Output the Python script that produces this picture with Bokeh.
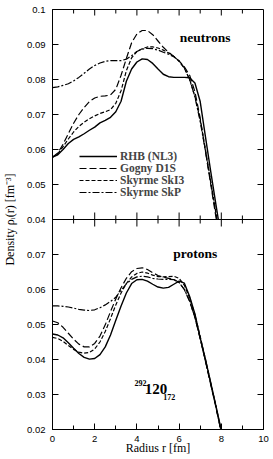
import math
from bokeh.plotting import figure
from bokeh.models import (Range1d, LinearAxis, FixedTicker, Span, Label,
                          Legend, LegendItem)
from bokeh.embed import file_html
from bokeh.resources import INLINE

# ---------------- data ----------------
r = [0.0, 0.25, 0.5, 0.75, 1.0, 1.25, 1.5, 1.75, 2.0, 2.25, 2.5, 2.75,
     3.0, 3.25, 3.5, 3.75, 4.0, 4.25, 4.5, 4.75, 5.0, 5.25, 5.5, 5.75,
     6.0, 6.25, 6.5, 6.75, 7.0, 7.25, 7.5, 7.75]

# neutrons
n_rhb = [0.0578, 0.0585, 0.0600, 0.0617, 0.0629, 0.0636, 0.0645, 0.0655, 0.0664, 0.0676, 0.0683, 0.0692,
         0.0708, 0.0738, 0.0795, 0.0830, 0.0850, 0.0859, 0.0857, 0.0846, 0.0830, 0.0815, 0.0808, 0.0806,
         0.0806, 0.0806, 0.0805, 0.0790, 0.0737, 0.0636, 0.0537, 0.0441]
n_rhb_end = (7.86, 0.040)
n_gog = [0.0578, 0.0590, 0.0615, 0.0645, 0.0675, 0.0700, 0.0720, 0.0737, 0.0747, 0.0752, 0.0753, 0.0756,
         0.0772, 0.0812, 0.0860, 0.0905, 0.0930, 0.0940, 0.0940, 0.0928, 0.0910, 0.0892, 0.0878, 0.0866,
         0.0853, 0.0836, 0.0812, 0.0765, 0.0690, 0.0595, 0.0500, 0.0405]
n_gog_end = (7.77, 0.040)
n_ski = [0.0578, 0.0588, 0.0608, 0.0630, 0.0650, 0.0666, 0.0678, 0.0688, 0.0696, 0.0703, 0.0708, 0.0714,
         0.0732, 0.0768, 0.0825, 0.0862, 0.0880, 0.0888, 0.0893, 0.0893, 0.0890, 0.0884, 0.0876, 0.0866,
         0.0852, 0.0832, 0.0800, 0.0752, 0.0685, 0.0600, 0.0508, 0.0418]
n_ski_end = (7.80, 0.040)
n_skp = [0.0777, 0.0779, 0.0783, 0.0788, 0.0796, 0.0806, 0.0818, 0.0830, 0.0840, 0.0847, 0.0852, 0.0854,
         0.0854, 0.0854, 0.0858, 0.0868, 0.0880, 0.0887, 0.0889, 0.0888, 0.0884, 0.0878, 0.0872, 0.0865,
         0.0853, 0.0833, 0.0800, 0.0750, 0.0680, 0.0595, 0.0505, 0.0415]
n_skp_end = (7.79, 0.040)

# protons
p_rhb = [0.0473, 0.0470, 0.0462, 0.0448, 0.0432, 0.0417, 0.0406, 0.0401, 0.0403, 0.0414, 0.0436, 0.0470,
         0.0512, 0.0553, 0.0590, 0.0617, 0.0628, 0.0629, 0.0624, 0.0615, 0.0607, 0.0604, 0.0606, 0.0615,
         0.0624, 0.0618, 0.0580, 0.0530, 0.0462, 0.0400, 0.0333, 0.0266]
p_rhb_end = (7.99, 0.020)
p_gog = [0.0510, 0.0505, 0.0492, 0.0475, 0.0458, 0.0444, 0.0436, 0.0436, 0.0446, 0.0467, 0.0499, 0.0537,
         0.0573, 0.0605, 0.0632, 0.0651, 0.0660, 0.0662, 0.0657, 0.0648, 0.0640, 0.0635, 0.0632, 0.0629,
         0.0620, 0.0600, 0.0566, 0.0520, 0.0460, 0.0395, 0.0328, 0.0262]
p_gog_end = (7.97, 0.020)
p_ski = [0.0463, 0.0460, 0.0452, 0.0440, 0.0429, 0.0421, 0.0418, 0.0420, 0.0430, 0.0450, 0.0480, 0.0517,
         0.0556, 0.0590, 0.0617, 0.0636, 0.0646, 0.0650, 0.0647, 0.0641, 0.0637, 0.0636, 0.0637, 0.0638,
         0.0632, 0.0612, 0.0576, 0.0528, 0.0466, 0.0400, 0.0333, 0.0266]
p_ski_end = (7.98, 0.020)
p_skp = [0.0553, 0.0553, 0.0552, 0.0550, 0.0547, 0.0543, 0.0541, 0.0540, 0.0542, 0.0548, 0.0556, 0.0566,
         0.0578, 0.0598, 0.0616, 0.0629, 0.0636, 0.0638, 0.0636, 0.0632, 0.0630, 0.0629, 0.0629, 0.0628,
         0.0620, 0.0600, 0.0567, 0.0520, 0.0460, 0.0395, 0.0330, 0.0263]
p_skp_end = (7.97, 0.020)

series_names = ["RHB (NL3)", "Gogny D1S", "Skyrme SkI3", "Skyrme SkP"]

x_ticks = [0, 2, 4, 6, 8, 10]
x_minor = [1, 3, 5, 7, 9]
x_tick_labels = ["0", "2", "4", "6", "8", "10"]
top_ticks = [0.04, 0.05, 0.06, 0.07, 0.08, 0.09, 0.10]
top_tick_labels = ["0.04", "0.05", "0.06", "0.07", "0.08", "0.09", "0.1"]
bot_ticks = [0.02, 0.03, 0.04, 0.05, 0.06, 0.07]
bot_tick_labels = ["0.02", "0.03", "0.04", "0.05", "0.06", "0.07"]

# ---------------- figure ----------------
TOP_SHIFT = 0.04   # top-panel range is the bottom-panel range shifted by this
Y0, Y1 = 0.02, 0.14
p = figure(width=273, height=458, output_backend="svg", toolbar_location=None,
           x_range=Range1d(0, 10), y_range=Range1d(Y0, Y1),
           x_axis_location=None, y_axis_location=None,
           min_border_left=50, min_border_right=10, min_border_top=9, min_border_bottom=29)
p.extra_y_ranges = {"top": Range1d(Y0 - TOP_SHIFT, Y1 - TOP_SHIFT)}
p.xgrid.visible = False
p.ygrid.visible = False
p.outline_line_color = "black"
p.outline_line_width = 1
p.background_fill_color = "white"
p.border_fill_color = "white"

SANS = "Liberation Sans"
SERIF = "Liberation Serif"

def style_axis(ax):
    ax.axis_line_color = "black"
    ax.major_tick_line_color = "black"
    ax.minor_tick_line_color = "black"
    ax.major_tick_in = 6
    ax.major_tick_out = 0
    ax.minor_tick_in = 4
    ax.minor_tick_out = 0
    ax.major_label_text_font = SANS
    ax.major_label_text_font_size = "9.5px"
    ax.major_label_text_color = "black"
    ax.axis_label_text_font = SERIF
    ax.axis_label_text_font_size = "12px"
    ax.axis_label_text_font_style = "normal"
    ax.axis_label_text_color = "black"

xt = FixedTicker(ticks=x_ticks, minor_ticks=x_minor)
xb = LinearAxis(ticker=xt, axis_label="Radius r [fm]",
                major_label_overrides={t: l for t, l in zip(x_ticks, x_tick_labels)})
style_axis(xb)
xb.major_label_standoff = 6
xb.axis_label_standoff = -4
p.add_layout(xb, "below")

y_pos = list(bot_ticks) + [round(t + TOP_SHIFT, 4) for t in top_ticks]
y_lab = list(bot_tick_labels) + list(top_tick_labels)
overrides = {pos: lab for pos, lab in zip(y_pos, y_lab)}
yl = LinearAxis(ticker=FixedTicker(ticks=y_pos, minor_ticks=[]),
                major_label_overrides=overrides,
                axis_label="Density ρᵢ(r) [fm⁻³]")
style_axis(yl)
yl.major_label_standoff = 7
yl.axis_label_standoff = 7
p.add_layout(yl, "left")

# inward ticks on the top and right frame edges (markers centred on the edge, half clipped)
p.scatter(x=x_ticks[1:-1], y=[Y1] * (len(x_ticks) - 2), marker="dash",
          angle=math.pi / 2, size=12, line_color="black", line_width=1)
p.scatter(x=x_minor, y=[Y1] * len(x_minor), marker="dash",
          angle=math.pi / 2, size=8, line_color="black", line_width=1)
inner_y = [v for v in y_pos if Y0 < v < Y1]
p.scatter(x=[10] * len(inner_y), y=inner_y, marker="dash",
          size=12, line_color="black", line_width=1)

# panel boundary (0.08 of the lower panel == 0.04 of the upper panel)
boundary = round(top_ticks[0] + TOP_SHIFT, 4)
p.add_layout(Span(location=boundary, dimension="width", line_color="black", line_width=1))
p.scatter(x=x_ticks[1:-1], y=[boundary] * (len(x_ticks) - 2), marker="dash",
          angle=math.pi / 2, size=14, line_color="black", line_width=1)
p.scatter(x=x_minor, y=[boundary] * len(x_minor), marker="dash",
          angle=math.pi / 2, size=8, line_color="black", line_width=1)

styles = [dict(line_dash="solid", line_width=1.4),
          dict(line_dash="7 3", line_width=1.2),
          dict(line_dash="4 2", line_width=1.2),
          dict(line_dash="7 2 2 2", line_width=1.2)]

neut = [(n_rhb, n_rhb_end), (n_gog, n_gog_end), (n_ski, n_ski_end), (n_skp, n_skp_end)]
prot = [(p_rhb, p_rhb_end), (p_gog, p_gog_end), (p_ski, p_ski_end), (p_skp, p_skp_end)]

legend_items = []
for (vals, end), st, name in zip(neut, styles, series_names):
    rr = p.line(r + [end[0]], vals + [end[1]], y_range_name="top", line_color="black",
                line_join="round", **st)
    legend_items.append(LegendItem(label=name, renderers=[rr]))
for (vals, end), st in zip(prot, styles):
    p.line(r + [end[0]], vals + [end[1]], line_color="black", line_join="round", **st)

legend = Legend(items=legend_items, location=(27, 231), orientation="vertical",
                glyph_width=38, glyph_height=12, label_height=12, label_standoff=3,
                spacing=0, padding=0, margin=0, border_line_color=None,
                background_fill_alpha=0, label_text_font=SERIF,
                label_text_font_style="bold", label_text_font_size="11.5px")
p.add_layout(legend)

def lab(x, y, text, size, rng=None, baseline="alphabetic"):
    kw = dict(x=x, y=y, text=text, text_font=SERIF, text_font_style="bold",
              text_font_size=size, text_color="black", text_baseline=baseline)
    if rng:
        kw["y_range_name"] = rng
    p.add_layout(Label(**kw))

lab(6.03, 0.0919, "neutrons", "13.5px", rng="top", baseline="middle")
lab(5.72, 0.0702, "protons", "13.5px", baseline="middle")
lab(3.89, 0.0334, "292", "8px")
lab(4.37, 0.0317, "120", "15px")
lab(5.25, 0.0294, "172", "8px")

open("out.html", "w").write(file_html(p, INLINE))
